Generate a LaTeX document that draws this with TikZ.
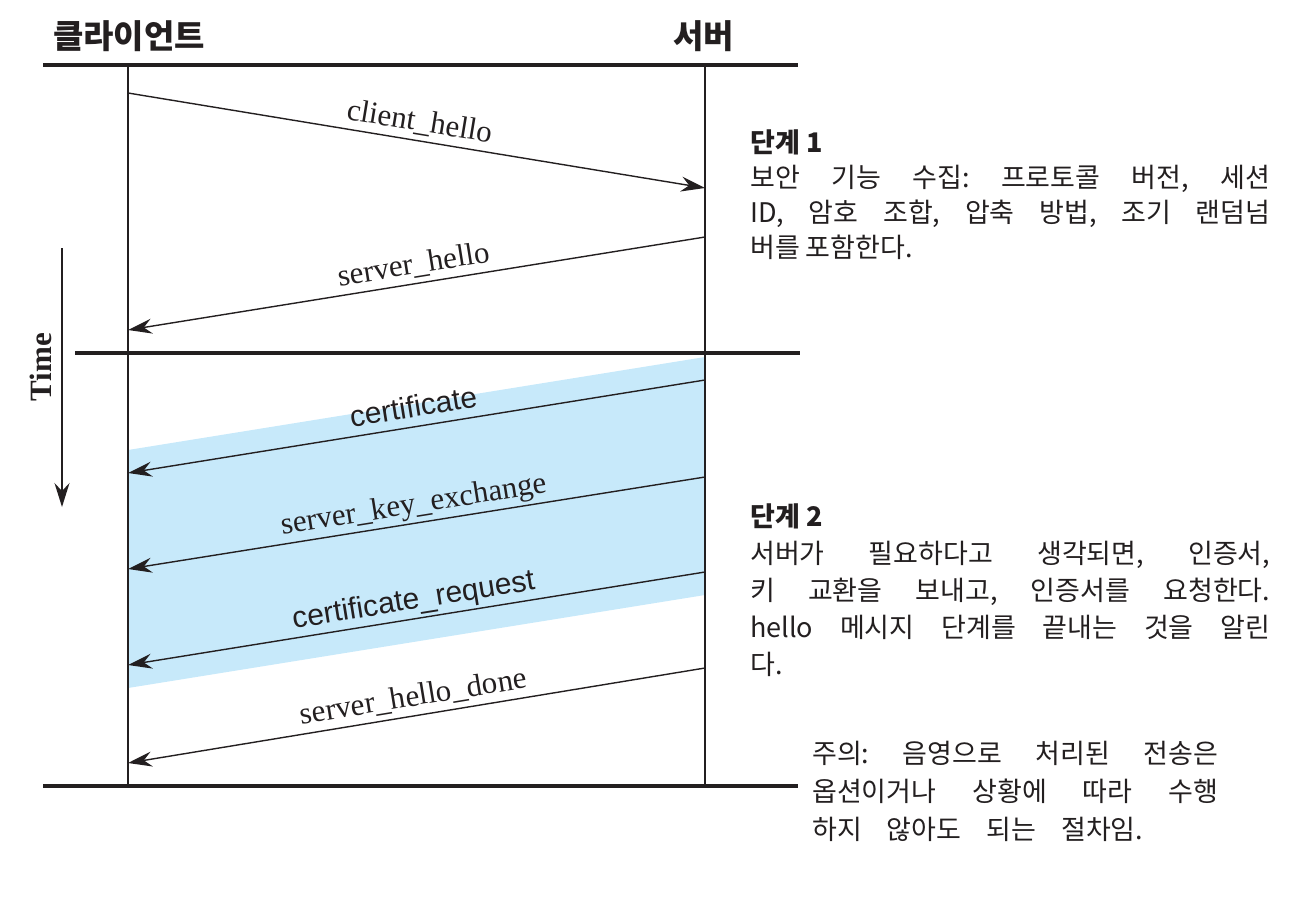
\documentclass[tikz,border=0pt]{standalone}
\usepackage{fontspec}
\setmainfont{Liberation Serif}
\setsansfont{Liberation Sans}
\newfontfamily\kr{Noto Sans CJK KR}
\usetikzlibrary{arrows.meta}
\definecolor{band}{RGB}{199,233,250}
\definecolor{ink}{RGB}{35,31,32}
\frenchspacing
\begin{document}
\begin{tikzpicture}[x=1pt,y=-1pt,
  life/.style={line width=1.5pt, draw=ink},
  rule/.style={line width=4.5pt, draw=ink},
  msg/.style={line width=1.4pt, draw=ink, -{Stealth[length=24pt,width=15pt,inset=8pt]}},
  lbl/.style={sloped, anchor=south, text depth=0pt, inner xsep=0pt, inner ysep=9pt,
    font=\fontsize{31}{31}\selectfont, text=ink},
  lbls/.style={lbl, font=\sffamily\fontsize{30}{30}\selectfont},
  head/.style={anchor=base west, inner sep=0pt, text=ink, font=\kr\bfseries\fontsize{33}{33}\selectfont},
  para/.style={anchor=base west, inner sep=0pt, align=left, text=ink},
]
\useasboundingbox (0,0) rectangle (1306,916);

% shaded band
\fill[band] (128,450) -- (705,357) -- (705,595) -- (128,688) -- cycle;

% headers
\node[head] (client) at (53,48) {클라이언트};
\node[head] (server) at (673,48) {서버};

% rules
\coordinate (r1a) at (43,65);  \coordinate (r1b) at (798,65);
\coordinate (r2a) at (75,353); \coordinate (r2b) at (800,353);
\coordinate (r3a) at (43,786); \coordinate (r3b) at (798,786);
\draw[rule] (r1a) -- (r1b);
\draw[rule] (r2a) -- (r2b);
\draw[rule] (r3a) -- (r3b);

% lifelines
\coordinate (cT) at (128,65); \coordinate (cB) at (128,786);
\coordinate (sT) at (705,65); \coordinate (sB) at (705,786);
\draw[life] (cT) -- (cB);
\draw[life] (sT) -- (sB);

% time arrow
\coordinate (t1) at (62,248); \coordinate (t2) at (62,507);
\draw[line width=1.5pt, draw=ink, -{Stealth[length=24pt,width=15pt,inset=8pt]}] (t1) -- (t2);
\node[rotate=90, text=ink, font=\bfseries\fontsize{31}{31}\selectfont] (time) at (41,367) {Time};

% messages
\coordinate (m1a) at (128,93);  \coordinate (m1b) at (705,188);
\coordinate (m2a) at (705,237); \coordinate (m2b) at (128,330);
\coordinate (m3a) at (705,380); \coordinate (m3b) at (128,473);
\coordinate (m4a) at (705,477); \coordinate (m4b) at (128,569);
\coordinate (m5a) at (705,572); \coordinate (m5b) at (128,665);
\coordinate (m6a) at (705,668); \coordinate (m6b) at (128,763);
\draw[msg] (m1a) -- node[lbl] (l1) {client\_hello} (m1b);
\draw[msg] (m2a) -- node[lbl] (l2) {server\_hello} (m2b);
\draw[msg] (m3a) -- node[lbls] (l3) {certificate} (m3b);
\draw[msg] (m4a) -- node[lbl] (l4) {server\_key\_exchange} (m4b);
\draw[msg] (m5a) -- node[lbls] (l5) {certificate\_request} (m5b);
\draw[msg] (m6a) -- node[lbl] (l6) {server\_hello\_done} (m6b);

% phase texts (base = last line's baseline)
\node[para, font=\kr\fontsize{27}{35}\selectfont] (p1) at (750,257) {%
  \textbf{단계 1}\\
  \makebox[520pt][s]{보안 기능 수집: 프로토콜 버전, 세션}\\
  \makebox[520pt][s]{ID, 암호 조합, 압축 방법, 조기 랜덤넘}\\
  버를 포함한다.};
\node[para, font=\kr\fontsize{27}{37}\selectfont] (p2) at (750,674) {%
  \textbf{단계 2}\\
  \makebox[520pt][s]{서버가 필요하다고 생각되면, 인증서,}\\
  \makebox[520pt][s]{키 교환을 보내고, 인증서를 요청한다.}\\
  \makebox[520pt][s]{hello 메시지 단계를 끝내는 것을 알린}\\
  다.};
\node[para, font=\kr\fontsize{27}{38}\selectfont] (note) at (812,839) {%
  \makebox[406pt][s]{주의: 음영으로 처리된 전송은}\\
  \makebox[406pt][s]{옵션이거나 상황에 따라 수행}\\
  \makebox[331pt][s]{하지 않아도 되는 절차임.}};
\end{tikzpicture}
\end{document}
